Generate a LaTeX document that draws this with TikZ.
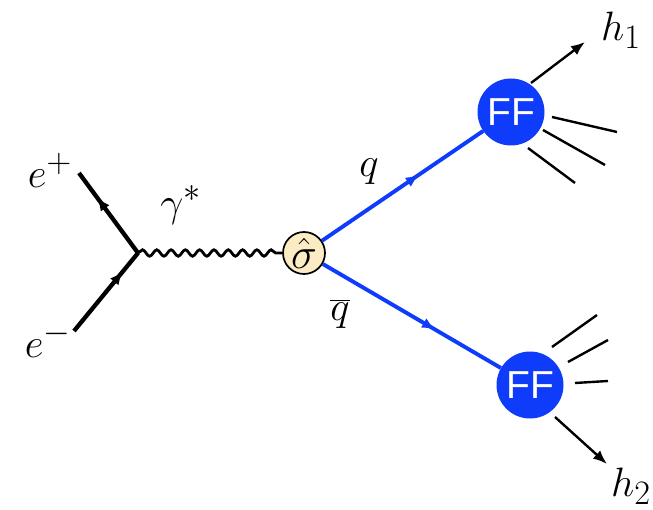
\documentclass[tikz,border=0pt]{standalone}
\usepackage{fontspec}
\newfontfamily\fffont{Liberation Sans}
\usetikzlibrary{decorations.pathmorphing,decorations.markings,arrows.meta}
\definecolor{qblue}{RGB}{15,60,250}
\definecolor{cream}{RGB}{252,236,196}
\newcommand{\biglbl}[1]{\scalebox{1.65}{\Huge$#1$}}
\begin{document}
\begin{tikzpicture}[x=1pt,y=-1pt,
  lbl/.style={inner sep=0pt},
  fermion/.style={line width=4.3pt},
  photon/.style={line width=2.8pt, decorate, decoration={snake, segment length=14.3pt, amplitude=3.2pt}},
  quark/.style={line width=3.9pt, qblue},
  jet/.style={line width=2.4pt},
  hadron/.style={line width=2.4pt, -{Latex[length=14pt,width=11pt]}},
  midarrow/.style={postaction={decorate}, decoration={markings, mark=at position #1 with {\arrow{Latex[length=13pt,width=11pt]}}}},
  ffnode/.style={circle, fill=qblue, minimum size=67pt, inner sep=0pt, text=white, font=\fffont\fontsize{39}{42}\selectfont},
]
\useasboundingbox (0,0) rectangle (653,510);

\coordinate (V) at (138,253);
\coordinate (ep) at (79,173);
\coordinate (em) at (74,331);
\node[circle, draw, line width=1.7pt, fill=cream, minimum size=42pt, inner sep=0pt] (sig) at (304,253) {\scalebox{1.75}{\Huge$\hat\sigma$}};
\node[ffnode] (ff1) at (511,112) {FF};
\node[ffnode] (ff2) at (530,385) {FF};

% labels
\node[lbl] (lep) at (50,170) {\biglbl{e^{+}}};
\node[lbl] (lem) at (48,340) {\biglbl{e^{-}}};
\node[lbl] (lgam) at (181,205) {\biglbl{\gamma^{*}}};
\node[lbl] (lq) at (369,172) {\biglbl{q}};
\node[lbl] (lqb) at (340,314) {\biglbl{\overline{q}}};
\node[lbl] (lh1) at (621,30) {\biglbl{h_1}};
\node[lbl] (lh2) at (631,486) {\biglbl{h_2}};

% fermions
\draw[fermion, midarrow=0.69] (V) -- (ep);
\draw[fermion, midarrow=0.76] (em) -- (V);
% photon
\draw[photon] (V) -- (sig.west);
% quarks
\draw[quark, midarrow=0.6] (sig) -- (ff1);
\draw[quark, midarrow=0.63] (sig) -- (ff2);

% hadrons
\coordinate (h1s) at (531,83);
\coordinate (h1e) at (585,42);
\coordinate (h2s) at (555,417);
\coordinate (h2e) at (607,464);
\draw[hadron] (h1s) -- (h1e);
\draw[hadron] (h2s) -- (h2e);

% jets FF1
\coordinate (a1) at (552,117); \coordinate (a2) at (617,132);
\coordinate (b1) at (543,130); \coordinate (b2) at (605,165);
\coordinate (c1) at (528,148); \coordinate (c2) at (575,183);
\draw[jet] (a1) -- (a2);
\draw[jet] (b1) -- (b2);
\draw[jet] (c1) -- (c2);
% jets FF2
\coordinate (d1) at (552,347); \coordinate (d2) at (597,315);
\coordinate (e1) at (568,362); \coordinate (e2) at (608,340);
\coordinate (f1) at (575,383); \coordinate (f2) at (608,381);
\draw[jet] (d1) -- (d2);
\draw[jet] (e1) -- (e2);
\draw[jet] (f1) -- (f2);
\end{tikzpicture}
\end{document}
